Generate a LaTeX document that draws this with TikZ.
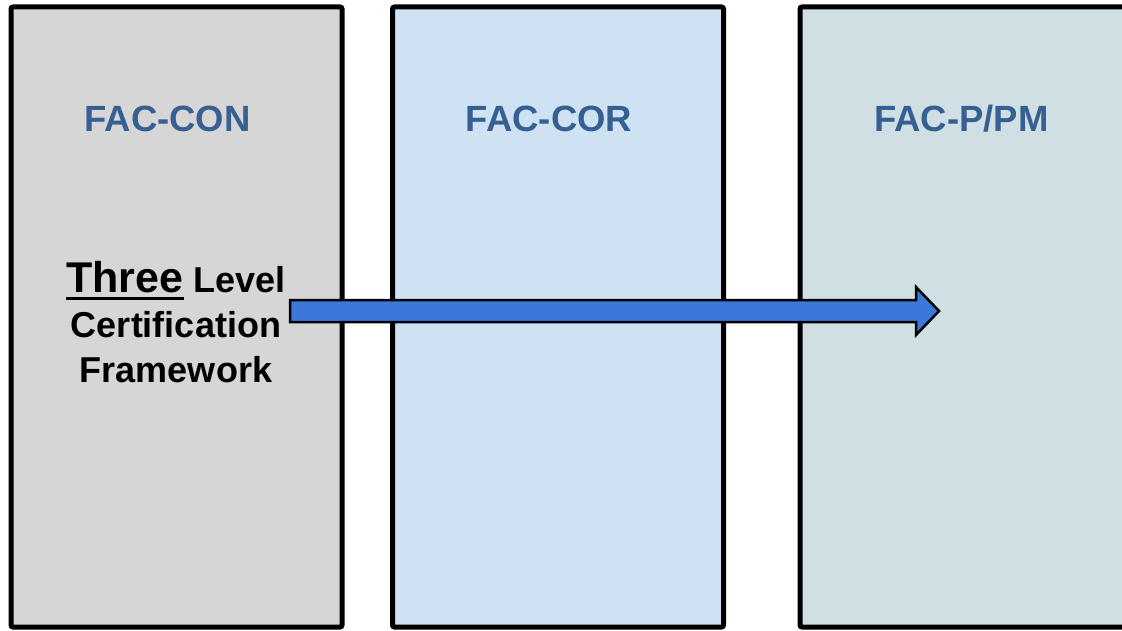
\documentclass[tikz,border=0pt]{standalone}
\usepackage{fontspec}
\setmainfont{Liberation Sans}
\usepackage{tikz}
\usetikzlibrary{calc}
\definecolor{boxgray}{HTML}{D6D6D6}
\definecolor{boxblue}{HTML}{CFE2F3}
\definecolor{boxteal}{HTML}{D0DFE3}
\definecolor{labelblue}{HTML}{366092}
\definecolor{arrowblue}{HTML}{3C78D8}
\newcommand{\thickul}[1]{\setbox0\hbox{#1}\rlap{\rule[-8pt]{\wd0}{3pt}}\box0}
\tikzset{
  levelbox/.style={draw=black, line width=5pt, rounded corners=2pt},
  levellabel/.style={text=labelblue, font=\fontsize{36.5}{40}\selectfont\bfseries},
  bigarrow/.style={draw=black, line width=2.5pt, fill=arrowblue, line join=miter}
}
\begin{document}
\begin{tikzpicture}[x=1pt, y=-1pt]
\useasboundingbox (0,0) rectangle (1122,631);
\clip (0,0) rectangle (1122,631);
% the three certification levels
\draw[levelbox, fill=boxgray] (11,7) rectangle (342,627);
\draw[levelbox, fill=boxblue] (392.5,7) rectangle (723.5,627);
\draw[levelbox, fill=boxteal] (800,7) rectangle (1140,627);
\node[levellabel] (con) at (167.5,119) {FAC-CON};
\node[levellabel] (cor) at (549,119) {FAC-COR};
\node[levellabel] (ppm) at (961.5,119) {FAC-P/PM};

%arrow through all levels
\coordinate (tail) at (290,311);
\coordinate (tip) at (939,311);
\draw[bigarrow] ($(tail)+(0,-11)$) -- ($(tip)+(-23,-11)$) -- ($(tip)+(-23,-24)$) -- (tip)
  -- ($(tip)+(-23,24)$) -- ($(tip)+(-23,11)$) -- ($(tail)+(0,11)$) -- cycle;

\node[align=center, font=\fontsize{36}{45}\selectfont\bfseries, inner sep=0pt] (frame) at (176,322)
  {{\fontsize{43}{45}\selectfont\thickul{Three}} {\fontsize{36}{45}\selectfont Level}\\
   Certification\\
   Framework};
\end{tikzpicture}
\end{document}
